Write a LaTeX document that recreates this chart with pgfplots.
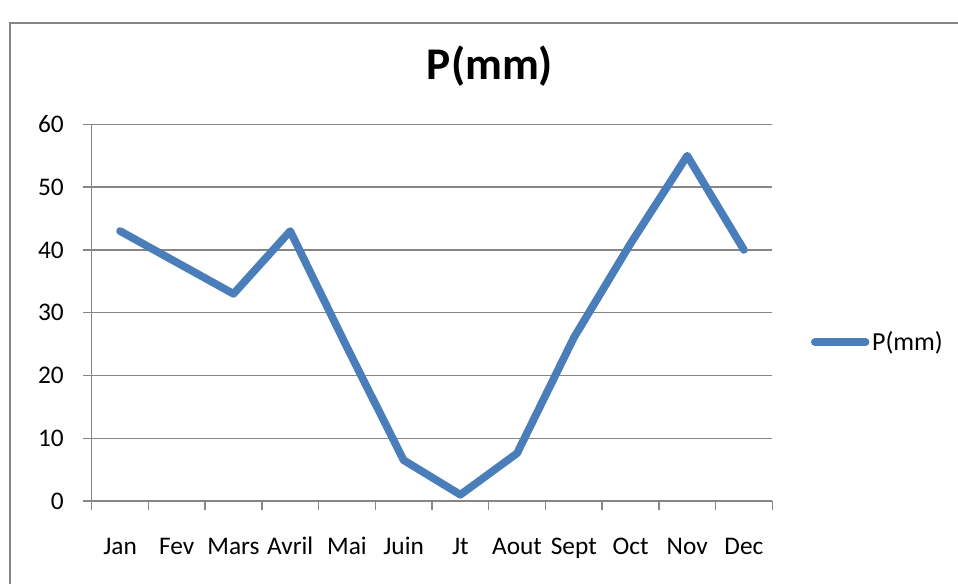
\documentclass[border=0pt]{standalone}
\usepackage{pgfplots}
\pgfplotsset{compat=1.18}
\usepackage{fontspec}
\setmainfont{Carlito}
\definecolor{gridgray}{HTML}{868686}
\definecolor{lineblue}{HTML}{4A7EBB}
\begin{document}
\begin{tikzpicture}
\path[use as bounding box] (0,0) rectangle (718.5pt,437.25pt);
\draw[gridgray, line width=1.1pt] (7.5pt,-2pt) -- (7.5pt,420pt) -- (720pt,420pt);
\node[anchor=base, font=\fontsize{34}{40}\selectfont\bfseries] at (367.5pt,377.25pt) {P(mm)};
\begin{axis}[
  at={(68.78pt,61.5pt)}, anchor=south west,
  scale only axis, width=510.45pt, height=282.5pt,
  xmin=-0.5, xmax=11.5, ymin=0, ymax=60,
  axis lines=left, axis line style={-, gridgray, line width=1pt},
  xtick={0,...,11},
  xticklabels={Jan,Fev,Mars,Avril,Mai,Juin,Jt,Aout,Sept,Oct,Nov,Dec},
  minor xtick={-0.5,0.5,...,11.5},
  ytick={0,10,...,60},
  ymajorgrids, grid style={gridgray, line width=1pt},
  tick align=outside,
  x tick style={draw=none},
  minor x tick style={draw=gridgray, line width=1pt},
  minor tick length=6.75pt,
  y tick style={gridgray, line width=1pt},
  major tick length=6.75pt,
  /pgf/number format/assume math mode=true,
  tick label style={font=\fontsize{19}{22}\selectfont},
  yticklabel style={anchor=east, inner sep=0pt, xshift=-14pt},
  xticklabel style={anchor=base, inner sep=0pt, yshift=-33.5pt},
  legend style={at={(1.0565,0.422)}, anchor=west, draw=none, fill=none, inner sep=0pt,
    font=\fontsize{19.5}{22}\selectfont, cells={anchor=west}},
  legend image code/.code={\draw[#1, line cap=round] (0pt,0pt) -- (38pt,0pt);},
]
\addplot[lineblue, line width=5.8pt, line join=round, line cap=round] coordinates {
  (0,43) (1,38) (2,33) (3,43) (4,24.5) (5,6.5) (6,1) (7,7.6) (8,26) (9,41) (10,55) (11,40)
};
\addlegendentry{P(mm)}
\end{axis}
\end{tikzpicture}
\end{document}
